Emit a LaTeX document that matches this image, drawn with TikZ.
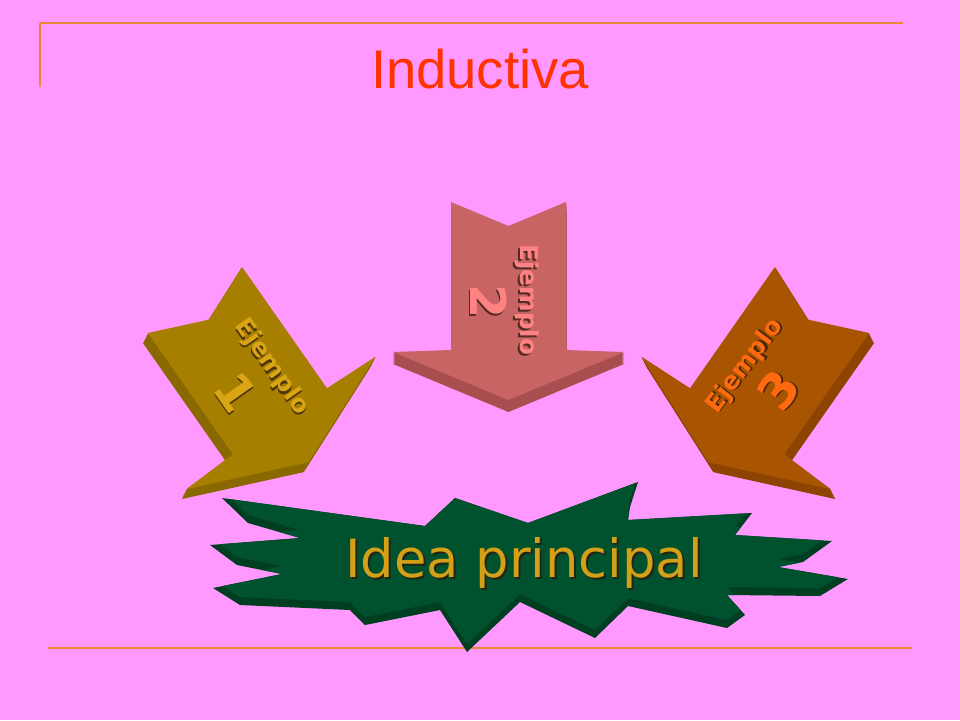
\documentclass[tikz,border=0pt]{standalone}
\usepackage{fontspec}
\newfontfamily\arialf{Liberation Sans}
\newfontfamily\verdf{DejaVu Sans}
\definecolor{bgpink}{HTML}{FF99FF}
\definecolor{rulec}{HTML}{E8893A}
\definecolor{titlered}{HTML}{FF3300}
\definecolor{aoneface}{HTML}{A67F00}
\definecolor{aoneside}{HTML}{8A6800}
\definecolor{aonetext}{HTML}{D9A514}
\definecolor{atwoface}{HTML}{C86464}
\definecolor{atwoside}{HTML}{A94E4E}
\definecolor{atwotext}{HTML}{FF8282}
\definecolor{athreeface}{HTML}{A85400}
\definecolor{athreeside}{HTML}{8C4400}
\definecolor{athreetext}{HTML}{FF6A10}
\definecolor{starface}{HTML}{00522E}
\definecolor{starside}{HTML}{003E22}
\definecolor{ideagold}{HTML}{D4A017}
\definecolor{shadowc}{HTML}{2A1A10}
\newcommand\arrowshape[1]{\fill[#1] (-57.5,0) -- (0,24) -- (57.5,0) -- (57.5,148) -- (115.5,150) -- (0,198) -- (-115.5,150) -- (-57.5,148) -- cycle;}
\newcommand\starshape[1]{\fill[#1] (222,498) -- (425,526) -- (455,498) -- (528,523) -- (638,482) -- (630,507) -- (628,520) -- (752,513) -- (735,535) -- (832,541) -- (803,562) -- (778,567) -- (848,579) -- (820,596) -- (727,595) -- (745,615) -- (727,628) -- (628,606) -- (595,638) -- (520,602) -- (467,652) -- (440,610) -- (365,625) -- (350,610) -- (240,605) -- (213,588) -- (282,574) -- (237,565) -- (210,545) -- (300,538) -- (248,523) -- cycle;}
\newcommand\starclip{\clip (222,498) -- (425,526) -- (455,498) -- (528,523) -- (638,482) -- (630,507) -- (628,520) -- (752,513) -- (735,535) -- (832,541) -- (803,562) -- (778,567) -- (848,579) -- (820,596) -- (727,595) -- (745,615) -- (727,628) -- (628,606) -- (595,638) -- (520,602) -- (467,652) -- (440,610) -- (365,625) -- (350,610) -- (240,605) -- (213,588) -- (282,574) -- (237,565) -- (210,545) -- (300,538) -- (248,523) -- cycle;}
\newcommand\shtext[6]{%
  \node[inner sep=0pt, rotate=#3, font=#4, text=shadowc, opacity=0.75, xshift=0.035cm, yshift=-0.035cm] (#1s) at #2 {#6};
  \node[inner sep=0pt, rotate=#3, font=#4, text=#5] (#1) at #2 {#6};}
\newcommand\exfont{\verdf\bfseries\fontsize{14}{16}\selectfont}
\newcommand\numfont{\verdf\bfseries\fontsize{28}{32}\selectfont}
\tikzset{
  rulestyle/.style={draw=rulec, line width=1.4pt},
}
\begin{document}
\begin{tikzpicture}[x=0.02cm,y=-0.02cm]
\fill[bgpink] (0,0) rectangle (960,720);
\useasboundingbox (0,0) rectangle (960,720);
% rules
\draw[rulestyle] (903,23) -- (40,23);
\draw[draw=rulec, line width=0.8pt] (40,23) -- (40,87);
\draw[rulestyle] (48,648) -- (912,648);
% title
\node[inner sep=0pt, anchor=base, font=\arialf\fontsize{31}{36}\selectfont, text=titlered] (title) at (480,88) {Inductiva};
% star
\starshape{starside}
\begin{scope}
  \starclip
  \starshape{starface, shift={(0,-8)}}
\end{scope}
\node[inner sep=0pt, anchor=base, font=\verdf\fontsize{30}{36}\selectfont, text=shadowc, opacity=0.8, xshift=0.04cm, yshift=-0.04cm] (ideas) at (524,577) {Idea principal};
\node[inner sep=0pt, anchor=base, font=\verdf\fontsize{30}{36}\selectfont, text=ideagold] (idea) at (524,577) {Idea principal};
% arrow 1
\foreach \k in {12,...,1}{
  \begin{scope}[shift={({-5*\k/12},{10*\k/12})}]
    \begin{scope}[shift={(195,300)},rotate=35]\arrowshape{aoneside}\end{scope}
  \end{scope}}
\begin{scope}[shift={(195,300)},rotate=35]\arrowshape{aoneface}\end{scope}
% arrow 2
\foreach \k in {12,...,1}{
  \begin{scope}[shift={(0,{12*\k/12})}]
    \begin{scope}[shift={(508.5,202)}]\arrowshape{atwoside}\end{scope}
  \end{scope}}
\begin{scope}[shift={(508.5,202)}]\arrowshape{atwoface}\end{scope}
% arrow 3
\foreach \k in {12,...,1}{
  \begin{scope}[shift={({5*\k/12},{10*\k/12})}]
    \begin{scope}[shift={(822,300)},rotate=-35]\arrowshape{athreeside}\end{scope}
  \end{scope}}
\begin{scope}[shift={(822,300)},rotate=-35]\arrowshape{athreeface}\end{scope}
% texts
\shtext{ejone}{(272,367)}{-55}{\exfont}{aonetext}{Ejemplo}
\shtext{numone}{(236,392)}{-55}{\numfont}{aonetext}{1}
\shtext{ejtwo}{(527,300)}{-90}{\exfont}{atwotext}{Ejemplo}
\shtext{numtwo}{(489,302)}{-90}{\numfont}{atwotext}{2}
\shtext{ejthree}{(745,366)}{53}{\exfont}{athreetext}{Ejemplo}
\shtext{numthree}{(778,390)}{53}{\numfont}{athreetext}{3}
\end{tikzpicture}
\end{document}
